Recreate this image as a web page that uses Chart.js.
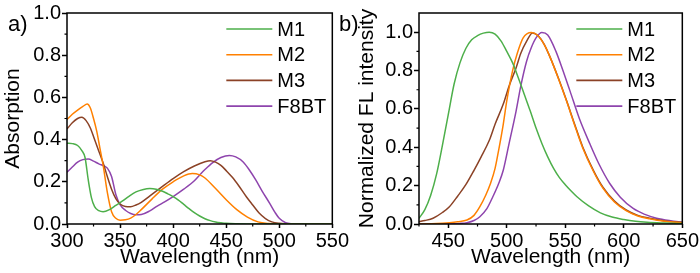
<!DOCTYPE html>
<html>
<head>
<meta charset="utf-8">
<script src="https://cdn.jsdelivr.net/npm/chart.js@4.4.1/dist/chart.umd.min.js"></script>
<style>
  html, body { margin: 0; padding: 0; background: #fff; }
  #wrap { position: relative; width: 700px; height: 273px; }
  canvas { position: absolute; top: 0; }
  #absChart { left: 0; }
  #flChart { left: 336px; }
</style>
</head>
<body>
<div id="wrap">
  <canvas id="absChart" width="350" height="273"></canvas>
  <canvas id="flChart" width="364" height="273"></canvas>
</div>
<script>
const seriesNames = ['M1', 'M2', 'M3', 'F8BT'];
const seriesColors = ['#4daf4a', '#ff8000', '#8b4226', '#8e44ad'];

// a) absorption spectra
const absM1Nm = [300, 305, 310, 314, 317, 320, 323, 326, 330, 334, 340, 346, 352, 358, 365, 372, 378, 384, 390, 395, 400, 405, 410, 415, 420, 425, 430, 435, 440, 445, 450, 460, 480, 520, 550];
const absM1 = [0.383, 0.381, 0.372, 0.348, 0.315, 0.21, 0.125, 0.082, 0.063, 0.058, 0.068, 0.088, 0.108, 0.13, 0.152, 0.164, 0.168, 0.165, 0.155, 0.143, 0.13, 0.113, 0.093, 0.073, 0.054, 0.038, 0.025, 0.016, 0.01, 0.006, 0.003, 0.001, 0, 0, 0];

const absM2Nm = [300, 305, 310, 315, 319, 322, 325, 328, 331, 334, 338, 342, 346, 350, 355, 360, 365, 370, 380, 390, 400, 410, 418, 425, 430, 440, 450, 460, 470, 480, 490, 500, 550];
const absM2 = [0.495, 0.52, 0.54, 0.557, 0.569, 0.55, 0.5, 0.44, 0.36, 0.28, 0.15, 0.058, 0.027, 0.018, 0.02, 0.028, 0.045, 0.068, 0.118, 0.165, 0.2, 0.228, 0.239, 0.233, 0.218, 0.168, 0.115, 0.068, 0.033, 0.01, 0.002, 0, 0];

const absM3Nm = [300, 305, 310, 314, 318, 322, 326, 330, 334, 338, 342, 346, 350, 355, 360, 365, 370, 380, 390, 400, 410, 420, 430, 435, 440, 445, 450, 456, 462, 469, 475, 481, 487, 493, 500, 510, 550];
const absM3 = [0.45, 0.48, 0.5, 0.506, 0.49, 0.455, 0.4, 0.345, 0.29, 0.225, 0.165, 0.12, 0.095, 0.083, 0.082, 0.09, 0.103, 0.14, 0.178, 0.215, 0.248, 0.275, 0.295, 0.3, 0.293, 0.278, 0.253, 0.22, 0.18, 0.129, 0.09, 0.052, 0.026, 0.01, 0.003, 0, 0];

const absF8Nm = [300, 305, 310, 315, 320, 325, 330, 335, 338, 342, 346, 350, 355, 360, 365, 370, 378, 385, 392, 400, 410, 420, 425, 430, 437, 445, 453, 459, 466, 472, 478, 484, 491, 496, 500, 506, 512, 520, 550];
const absF8 = [0.245, 0.27, 0.293, 0.305, 0.308, 0.298, 0.285, 0.275, 0.265, 0.225, 0.14, 0.092, 0.065, 0.05, 0.044, 0.045, 0.062, 0.085, 0.105, 0.13, 0.165, 0.205, 0.232, 0.258, 0.29, 0.315, 0.325, 0.318, 0.294, 0.255, 0.208, 0.155, 0.098, 0.055, 0.027, 0.006, 0.001, 0, 0];

// b) normalized FL spectra
const flM1Nm = [425, 430, 435, 440, 445, 450, 455, 460, 465, 470, 475, 480, 485, 490, 495, 500, 505, 510, 515, 520, 525, 530, 535, 540, 545, 550, 555, 560, 570, 580, 590, 600, 610, 620, 635, 650];
const flM1 = [0.03, 0.075, 0.15, 0.26, 0.41, 0.57, 0.73, 0.84, 0.915, 0.96, 0.982, 0.995, 1.0, 0.99, 0.955, 0.9, 0.84, 0.76, 0.675, 0.59, 0.5, 0.42, 0.35, 0.29, 0.242, 0.205, 0.172, 0.142, 0.094, 0.058, 0.036, 0.023, 0.014, 0.009, 0.005, 0.002];

const flM2Nm = [425, 440, 451, 458, 466, 472, 477, 482, 486, 490, 493, 497, 500, 505, 509, 514, 521, 526, 532, 537, 544, 551, 558, 565, 574, 582, 592, 602, 612, 622, 635, 650];
const flM2 = [0, 0.002, 0.007, 0.012, 0.021, 0.045, 0.09, 0.15, 0.21, 0.29, 0.383, 0.52, 0.642, 0.8, 0.89, 0.97, 0.998, 0.985, 0.935, 0.87, 0.76, 0.642, 0.515, 0.395, 0.275, 0.188, 0.115, 0.07, 0.042, 0.027, 0.014, 0.007];

const flM3Nm = [425, 430, 437, 445, 451, 458, 465, 472, 478, 485, 490, 497, 502, 508, 512, 517, 522, 527, 532, 537, 544, 551, 558, 565, 574, 582, 592, 602, 612, 622, 635, 650];
const flM3 = [0.012, 0.018, 0.03, 0.06, 0.09, 0.145, 0.205, 0.28, 0.349, 0.435, 0.52, 0.625, 0.72, 0.815, 0.89, 0.953, 0.996, 0.98, 0.937, 0.87, 0.762, 0.645, 0.52, 0.4, 0.28, 0.193, 0.12, 0.073, 0.045, 0.03, 0.016, 0.008];

const flF8Nm = [425, 450, 460, 466, 472, 477, 483, 488, 493, 497, 502, 508, 512, 517, 521, 525, 530, 535, 542, 548, 554, 562, 571, 579, 588, 597, 608, 618, 628, 640, 650];
const flF8 = [0, 0.001, 0.003, 0.007, 0.018, 0.038, 0.08, 0.141, 0.21, 0.28, 0.42, 0.59, 0.72, 0.85, 0.92, 0.97, 0.998, 0.985, 0.9, 0.8, 0.694, 0.55, 0.418, 0.31, 0.211, 0.14, 0.081, 0.05, 0.03, 0.017, 0.01];

const fontFamily = '"Liberation Sans", Arial, sans-serif';
Chart.defaults.font.family = fontFamily;
Chart.defaults.color = '#000';

const toPoints = (xs, ys) => xs.map((x, i) => ({ x: x, y: ys[i] }));

// box around the plot + short minor ticks between the labelled ones
const frameAndMinorTicks = {
    id: 'frameAndMinorTicks',
    afterDraw(chart, args, opts) {
        const { ctx, chartArea: a, scales } = chart;
        ctx.save();
        ctx.strokeStyle = '#000';
        ctx.lineWidth = 1.5;
        ctx.strokeRect(a.left, a.top, a.right - a.left, a.bottom - a.top);

        ctx.lineWidth = 1.2;
        ctx.beginPath();
        const sx = scales.x;
        for (let v = Math.ceil(sx.min / opts.xMinor) * opts.xMinor; v < sx.max - 1e-6; v += opts.xMinor) {
            if (Math.abs(v / opts.xMajor - Math.round(v / opts.xMajor)) < 1e-6) continue;
            const px = sx.getPixelForValue(v);
            ctx.moveTo(px, a.bottom);
            ctx.lineTo(px, a.bottom + 2.5);
        }
        const sy = scales.y;
        for (let k = 1; k * opts.yMinor < sy.max - 1e-6; k++) {
            const v = k * opts.yMinor;
            if (Math.abs(v / opts.yMajor - Math.round(v / opts.yMajor)) < 1e-6) continue;
            const py = sy.getPixelForValue(v);
            ctx.moveTo(a.left, py);
            ctx.lineTo(a.left - 2.5, py);
        }
        ctx.stroke();
        ctx.restore();
    }
};

const insideLegend = {
    id: 'insideLegend',
    afterDraw(chart, args, opts) {
        const { ctx, chartArea: a } = chart;
        ctx.save();
        ctx.font = '20px ' + fontFamily;
        ctx.textBaseline = 'middle';
        ctx.textAlign = 'left';
        chart.data.datasets.forEach((ds, i) => {
            const yy = opts.top + i * opts.rowGap;
            const x0 = a.right - opts.fromRight;
            ctx.strokeStyle = ds.borderColor;
            ctx.lineWidth = 1.6;
            ctx.beginPath();
            ctx.moveTo(x0, yy);
            ctx.lineTo(x0 + opts.lineLen, yy);
            ctx.stroke();
            ctx.fillStyle = '#000';
            ctx.fillText(ds.label, x0 + opts.lineLen + 5, yy + 1);
        });
        ctx.restore();
    }
};

const panelLabel = {
    id: 'panelLabel',
    afterDraw(chart, args, opts) {
        const ctx = chart.ctx;
        ctx.save();
        ctx.font = '22px ' + fontFamily;
        ctx.fillStyle = '#000';
        ctx.textBaseline = 'middle';
        ctx.textAlign = 'left';
        ctx.fillText(opts.text, opts.x, opts.y);
        ctx.restore();
    }
};

function makeChart(canvasId, cfg) {
    const ctx = document.getElementById(canvasId).getContext('2d');
    const datasets = cfg.series.map((s, i) => ({
        label: seriesNames[i],
        data: toPoints(s[0], s[1]),
        borderColor: seriesColors[i],
        borderWidth: 1.5,
        pointRadius: 0,
        fill: false,
        cubicInterpolationMode: 'monotone',
    }));

    const tickFont = { size: 20, family: fontFamily };
    const titleFont = { size: 21, family: fontFamily };

    return new Chart(ctx, {
        type: 'line',
        data: { datasets: datasets },
        options: {
            responsive: false,
            animation: false,
            devicePixelRatio: 1,
            layout: { padding: { left: 0, right: cfg.padRight, top: cfg.padTop, bottom: 0 } },
            plugins: {
                legend: { display: false },
                tooltip: { enabled: false },
                frameAndMinorTicks: { xMinor: 25, xMajor: 50, yMinor: 0.1, yMajor: 0.2 },
                insideLegend: { top: 29, rowGap: 25.7, fromRight: 106, lineLen: 46 },
                panelLabel: cfg.label,
            },
            scales: {
                x: {
                    type: 'linear',
                    min: cfg.xMin,
                    max: cfg.xMax,
                    afterFit: (s) => { s.height = 49; },
                    // labelled ticks only on whole 50 nm steps
                    afterBuildTicks: (s) => {
                        const ticks = [];
                        for (let v = Math.ceil(cfg.xMin / 50) * 50; v <= cfg.xMax; v += 50) ticks.push({ value: v });
                        s.ticks = ticks;
                    },
                    ticks: { stepSize: 50, font: tickFont, color: '#000', padding: 1, maxRotation: 0, autoSkip: false },
                    grid: { drawOnChartArea: false, tickLength: 4, tickColor: '#000', tickWidth: 1.5 },
                    border: { display: false },
                    title: { display: true, text: 'Wavelength (nm)', font: titleFont, color: '#000', padding: { top: 0, bottom: 3 } },
                },
                y: {
                    type: 'linear',
                    min: 0,
                    max: cfg.yMax,
                    afterFit: (s) => { s.width = cfg.yWidth; },
                    afterBuildTicks: (s) => { s.ticks = s.ticks.filter(t => t.value <= 1.0001); },
                    ticks: { stepSize: 0.2, includeBounds: false, font: tickFont, color: '#000', padding: 1, callback: (v) => v.toFixed(1) },
                    grid: { drawOnChartArea: false, tickLength: 5, tickColor: '#000', tickWidth: 1.5 },
                    border: { display: false },
                    title: { display: true, text: cfg.yTitle, font: titleFont, color: '#000', padding: { top: cfg.yTitlePad, bottom: 0 } },
                },
            },
        },
        plugins: [frameAndMinorTicks, insideLegend, panelLabel],
    });
}

makeChart('absChart', {
    series: [[absM1Nm, absM1], [absM2Nm, absM2], [absM3Nm, absM3], [absF8Nm, absF8]],
    xMin: 300, xMax: 550, yMax: 1.0,
    yTitle: 'Absorption', yTitlePad: 1, yWidth: 67,
    padTop: 12, padRight: 17,
    label: { text: 'a)', x: 8, y: 25 },
});

makeChart('flChart', {
    series: [[flM1Nm, flM1], [flM2Nm, flM2], [flM3Nm, flM3], [flF8Nm, flF8]],
    xMin: 425, xMax: 650, yMax: 1.1,
    yTitle: 'Normalized FL intensity', yTitlePad: 19, yWidth: 83,
    padTop: 13, padRight: 17,
    label: { text: 'b)', x: 3, y: 25 },
});
</script>
</body>
</html>
